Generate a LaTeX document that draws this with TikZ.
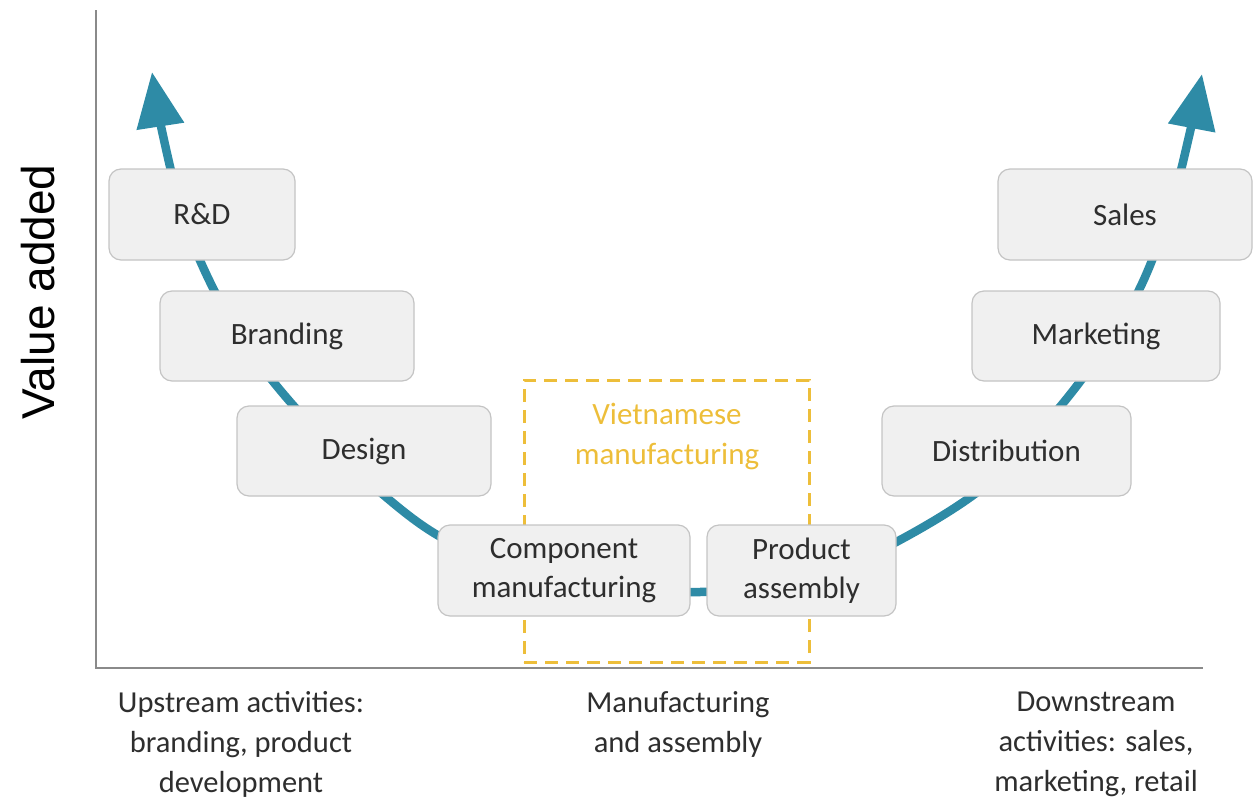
\documentclass[tikz,border=0pt]{standalone}
\usepackage{fontspec}
\setmainfont{Carlito}
\newfontfamily\axisfont{Liberation Sans}
\usetikzlibrary{arrows.meta}
\definecolor{teal}{HTML}{2E8BA6}
\definecolor{boxfill}{HTML}{F0F0F0}
\definecolor{boxline}{HTML}{C4C4C4}
\definecolor{gold}{HTML}{EDBE3A}
\definecolor{txt}{HTML}{2E2E2E}
\definecolor{axis}{HTML}{8A8A8A}
\tikzset{
  stage/.style={draw=boxline, line width=1.2pt, fill=boxfill, rounded corners=12pt,
    text=txt, font=\fontsize{31}{39}\selectfont, align=center, inner sep=0pt},
  lbl/.style={text=txt, font=\fontsize{30.5}{40}\selectfont, align=center},
  curve/.style={teal, line width=8.5pt, {Triangle[length=55pt,width=46pt]}-{Triangle[length=55pt,width=46pt]}},
}
\begin{document}
\begin{tikzpicture}[x=1pt,y=-1pt]
\useasboundingbox (0,0) rectangle (1253,798);
% axes
\coordinate (ytop) at (96,10);
\coordinate (orig) at (96,668);
\coordinate (xend) at (1203,668);
\draw[axis, line width=2pt] (ytop) -- (orig) -- (xend);
\node[rotate=90, text=black, font=\axisfont\fontsize{46}{54}\selectfont] (va) at (38,292) {Value added};
% curve
\coordinate (lt) at (152,72);
\coordinate (rt) at (1202,74);
\draw[curve] plot[smooth, tension=0.55] coordinates {(lt) (164,140) (185,222) (215,292) (255,358) (310,424) (380,492) (450,542) (560,583) (700,592) (820,576) (900,540) (980,490) (1040,430) (1090,368) (1138,292) (1170,210) (1190,132) (rt)};
% dashed box
\node[draw=gold, line width=3pt, dash pattern=on 13pt off 8pt, minimum width=285pt, minimum height=282pt, inner sep=0pt] (vbox) at (666.5,521) {};
\node[text=gold, font=\fontsize{31}{40}\selectfont, align=center] (vt) at (667,436) {Vietnamese\\manufacturing};
% stages
\node[stage, minimum width=186pt, minimum height=91pt] (rd) at (202,214.5) {R\&D};
\node[stage, minimum width=254pt, minimum height=90pt] (br) at (287,336) {Branding};
\node[stage, minimum width=254pt, minimum height=90pt] (de) at (364,451) {Design};
\node[stage, minimum width=252pt, minimum height=91pt] (cm) at (564,570.5) {Component\\manufacturing};
\node[stage, minimum width=189pt, minimum height=91pt] (pa) at (801.5,570.5) {Product\\assembly};
\node[stage, minimum width=249pt, minimum height=90pt] (di) at (1006.5,451) {Distribution};
\node[stage, minimum width=248pt, minimum height=90pt] (ma) at (1096,336) {Marketing};
\node[stage, minimum width=254pt, minimum height=91pt] (sa) at (1125,214.5) {Sales};
% bottom labels
\node[lbl, anchor=north] (up) at (241,688) {Upstream activities:\\branding, product\\development};
\node[lbl, anchor=north] (mid) at (678,688) {Manufacturing\\and assembly};
\node[lbl, anchor=north] (down) at (1096,688) {Downstream\\activities: sales,\\marketing, retail};
\end{tikzpicture}
\end{document}
